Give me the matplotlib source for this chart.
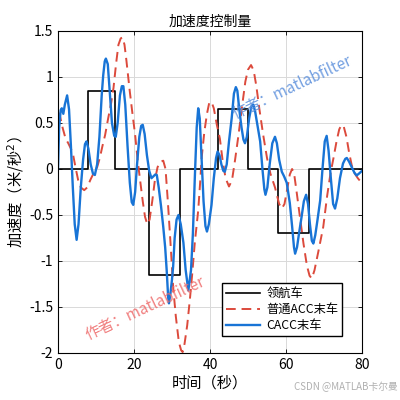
import numpy as np
import matplotlib
matplotlib.use("Agg")
import matplotlib.pyplot as plt

plt.rcParams['font.family'] = ['Noto Sans CJK SC', 'DejaVu Sans']
plt.rcParams['axes.unicode_minus'] = False

# 领航车：分段常值加速度
t_leader = [0, 8, 15, 24, 32, 42, 50, 58, 66, 80]
a_leader = [0, 0.85, 0, -1.15, 0, 0.65, 0, -0.7, 0]

# 普通ACC末车
t_acc = [0, 0.5, 1.2, 2.0, 2.7, 3.4, 4.0, 4.6, 5.3, 6.0, 6.9, 7.7, 8.5, 9.2, 9.7,
         10.3, 11.0, 11.7, 12.4, 13.2, 14.0, 14.6, 15.3, 15.9, 16.5, 17.0, 17.5,
         18.0, 18.9, 19.6, 20.3, 21.0, 21.6, 22.3, 22.9, 23.5, 24.1, 24.8, 25.5,
         26.2, 27.0, 27.7, 28.3, 28.9, 29.6, 30.3, 31.0, 31.8, 32.4, 32.8, 33.3,
         34.0, 34.7, 35.3, 36.0, 36.9, 37.4, 37.8, 38.5, 39.2, 39.8, 40.4, 41.0,
         41.8, 42.6, 43.3, 44.1, 45.0, 45.8, 46.6, 47.5, 48.5, 49.3, 50.0, 50.8,
         51.5, 52.2, 53.0, 54.0, 55.0, 55.9, 57.1, 58.2, 58.9, 59.6, 60.4, 61.0,
         61.6, 62.1, 62.8, 63.6, 64.6, 65.5, 66.2, 66.8, 67.5, 68.5, 69.8, 70.8,
         71.7, 72.5, 73.3, 74.0, 74.6, 75.2, 75.9, 76.6, 77.3, 78.1, 78.9, 79.5, 80]
a_acc = [0.62, 0.58, 0.45, 0.33, 0.28, 0.22, 0.15, 0.02, -0.12, -0.20, -0.23, -0.20,
         -0.12, -0.06, -0.03, 0.02, 0.12, 0.25, 0.37, 0.55, 0.72, 0.88, 1.15, 1.35,
         1.42, 1.43, 1.35, 1.18, 0.84, 0.60, 0.37, 0.08, -0.12, -0.35, -0.52, -0.60,
         -0.55, -0.35, -0.12, 0.02, 0.08, 0.09, 0.0, -0.35, -0.80, -1.28, -1.60,
         -1.88, -1.97, -1.99, -1.90, -1.70, -1.42, -1.15, -0.80, -0.45, -0.15, 0.12,
         0.40, 0.60, 0.72, 0.73, 0.66, 0.48, 0.33, 0.10, -0.10, -0.19, -0.12, 0.10,
         0.37, 0.70, 0.95, 1.08, 1.13, 1.07, 0.90, 0.65, 0.37, 0.12, -0.05, -0.20,
         -0.38, -0.43, -0.38, -0.20, -0.06, 0.0, -0.04, -0.25, -0.50, -0.81, -1.05,
         -1.16, -1.19, -1.10, -0.90, -0.63, -0.30, -0.05, 0.12, 0.30, 0.43, 0.48,
         0.46, 0.35, 0.18, 0.04, -0.05, -0.10, -0.13, -0.14]

# CACC末车
t_cacc = [0, 0.3, 0.7, 1.0, 1.4, 1.8, 2.4, 2.9, 3.4, 3.9, 4.4, 4.9, 5.4, 6.0, 6.6,
          7.1, 7.5, 8.0, 8.6, 9.2, 9.7, 10.3, 10.9, 11.5, 11.9, 12.3, 12.6, 13.1,
          13.6, 14.2, 14.8, 15.2, 15.7, 16.3, 16.8, 17.2, 17.7, 18.3, 18.9, 19.4,
          19.8, 20.3, 20.8, 21.4, 21.9, 22.3, 22.8, 23.4, 24.0, 24.6, 25.1, 25.6,
          26.0, 26.5, 27.1, 27.7, 28.2, 28.6, 29.0, 29.2, 29.6, 30.0, 30.3, 30.7,
          31.2, 31.7, 32.3, 33.0, 33.6, 34.3, 35.0, 35.5, 36.0, 36.5, 36.9, 37.3,
          37.8, 38.3, 38.8, 39.2, 39.7, 40.4, 41.0, 41.6, 42.0, 42.5, 43.0, 43.5,
          43.9, 44.4, 45.0, 45.7, 46.3, 46.8, 47.2, 47.7, 48.3, 48.8, 49.2, 49.7,
          50.3, 50.9, 51.4, 51.9, 52.5, 53.2, 53.8, 54.3, 54.6, 55.1, 55.7, 56.4,
          57.1, 57.6, 58.2, 58.9, 59.5, 60.2, 61.0, 61.6, 62.1, 62.4, 62.9, 63.5,
          64.1, 64.7, 65.3, 65.8, 66.3, 66.8, 67.2, 67.7, 68.3, 69.0, 69.6, 70.2,
          70.7, 71.2, 71.8, 72.4, 72.9, 73.5, 74.2, 75.0, 75.6, 76.0, 76.6, 77.3,
          78.0, 78.6, 79.2, 80]
a_cacc = [0.0, 0.45, 0.64, 0.66, 0.60, 0.70, 0.80, 0.65, 0.25, -0.20, -0.60, -0.77,
          -0.60, -0.20, 0.10, 0.27, 0.30, 0.22, 0.05, -0.05, -0.065, 0.05, 0.35, 0.80,
          1.02, 1.17, 1.20, 1.14, 0.85, 0.50, 0.36, 0.35, 0.50, 0.80, 0.90, 0.90,
          0.70, 0.25, -0.15, -0.36, -0.39, -0.25, 0.05, 0.35, 0.47, 0.48, 0.38, 0.15,
          -0.02, -0.10, -0.08, -0.06, -0.065, -0.20, -0.40, -0.63, -0.85, -1.10,
          -1.40, -1.46, -1.35, -1.20, -1.06, -0.75, -0.55, -0.50, -0.60, -0.80,
          -1.10, -1.32, -1.10, -0.70, -0.10, 0.45, 0.66, 0.55, 0.10, -0.35, -0.62,
          -0.68, -0.60, -0.39, -0.10, 0.12, 0.19, 0.15, 0.05, -0.02, -0.03, 0.05,
          0.30, 0.55, 0.82, 0.89, 0.85, 0.65, 0.45, 0.32, 0.28, 0.35, 0.55, 0.68,
          0.70, 0.62, 0.47, 0.30, 0.0, -0.22, -0.28, -0.20, 0.05, 0.28, 0.35, 0.28,
          0.10, -0.03, -0.08, -0.15, -0.37, -0.62, -0.85, -0.92, -0.85, -0.68, -0.52,
          -0.35, -0.28, -0.38, -0.60, -0.78, -0.81, -0.72, -0.55, -0.34, 0.0, 0.30,
          0.36, 0.20, -0.10, -0.38, -0.43, -0.32, -0.10, 0.06, 0.11, 0.12, 0.08,
          0.02, -0.04, -0.07, -0.05, -0.02]

xticks = [0, 20, 40, 60, 80]
yticks = [-2, -1.5, -1, -0.5, 0, 0.5, 1, 1.5]

fig = plt.figure(figsize=(4, 4), dpi=100)
ax = fig.add_axes([0.145, 0.1175, 0.76, 0.805])

ax.step(t_leader, a_leader + [a_leader[-1]], where='post', color='black', lw=1.2, label='领航车')
ax.plot(t_acc, a_acc, '--', color='#dc4a3c', lw=1.4, dashes=(5, 3), label='普通ACC末车')
ax.plot(t_cacc, a_cacc, color='#1874d6', lw=1.7, label='CACC末车')

ax.set_xlim(0, 80)
ax.set_ylim(-2, 1.5)
ax.set_xticks(xticks)
ax.set_yticks(yticks)
ax.set_yticklabels([f'{v:g}' for v in yticks])
ax.tick_params(direction='in', top=True, right=True, labelsize=10, length=3, width=0.6)
ax.grid(True, color='#d9d9d9', lw=0.7)
for s in ax.spines.values():
    s.set_linewidth(0.8)

ax.set_title('加速度控制量', fontsize=10, pad=4)
ax.set_xlabel('时间（秒）', fontsize=11, labelpad=2)
ax.set_ylabel('加速度（米/秒$^2$）', fontsize=11, labelpad=2)

ax.legend(loc='lower right', fontsize=8.8, handlelength=2.8, fancybox=False,
          edgecolor='black', framealpha=1, borderpad=0.3, labelspacing=0.25,
          handletextpad=0.5, bbox_to_anchor=(0.955, 0.035))

ax.text(0.565, 0.715, '作者：matlabfilter', transform=ax.transAxes, fontsize=11,
        color='#5b8fdc', alpha=0.85, rotation=25, ha='left', va='bottom')
ax.text(0.08, 0.03, '作者：matlabfilter', transform=ax.transAxes, fontsize=11,
        color='#ee6a6a', alpha=0.85, rotation=25, ha='left', va='bottom')

fig.text(0.995, 0.02, 'CSDN @MATLAB卡尔曼', fontsize=7, color='#b0b0b0', ha='right', va='bottom')

fig.savefig('out.png', dpi=100)
